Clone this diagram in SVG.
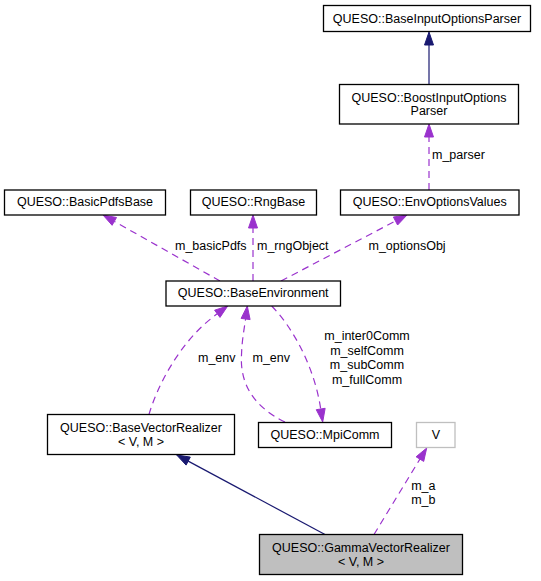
<svg xmlns="http://www.w3.org/2000/svg" width="541" height="581" viewBox="0 0 541 581">
<style>
  .box { fill: #ffffff; stroke: #000000; stroke-width: 1.3; }
  .cur { fill: #bfbfbf; stroke: #000000; stroke-width: 1.3; }
  .ext { fill: #ffffff; stroke: #bfbfbf; stroke-width: 1.3; }
  text { font-family: "Liberation Sans", Arial, Helvetica, sans-serif; font-size: 12.5px; fill: #000000; }
  .c { text-anchor: middle; }
  .inh { fill: none; stroke: #191970; stroke-width: 1.2; }
  .inhh { fill: #191970; stroke: #191970; stroke-width: 1; }
  .use { fill: none; stroke: #9a32cd; stroke-width: 1.2; stroke-dasharray: 7,5; }
  .useh { fill: #9a32cd; stroke: #9a32cd; stroke-width: 1; }
</style>
<rect width="541" height="581" fill="#ffffff"/>

<g id="connectors">
  <!-- BoostInputOptionsParser -> BaseInputOptionsParser -->
  <line class="inh" x1="429" y1="84" x2="429" y2="45"/>
  <polygon class="inhh" points="429,32 424.5,45 433.5,45"/>

  <!-- EnvOptionsValues -> BoostInputOptionsParser -->
  <line class="use" x1="429" y1="190" x2="429" y2="137"/>
  <polygon class="useh" points="429,124 424.5,137 433.5,137"/>
  <text x="432" y="159">m_parser</text>

  <!-- BaseEnvironment -> BasicPdfsBase -->
  <line class="use" x1="220" y1="281" x2="114.3" y2="221.4"/>
  <polygon class="useh" points="103,215 116.5,217.5 112.1,225.3"/>
  <text x="175" y="249.5">m_basicPdfs</text>

  <!-- BaseEnvironment -> RngBase -->
  <line class="use" x1="253" y1="281" x2="253" y2="228"/>
  <polygon class="useh" points="253,215 248.5,228 257.5,228"/>
  <text x="257" y="249.5">m_rngObject</text>

  <!-- BaseEnvironment -> EnvOptionsValues -->
  <line class="use" x1="281" y1="281" x2="395.5" y2="221"/>
  <polygon class="useh" points="407,215 397.6,225 393.4,217"/>
  <text x="368.5" y="249.5">m_optionsObj</text>

  <!-- BaseVectorRealizer -> BaseEnvironment -->
  <path class="use" d="M149,414.5 C156,390 178,342 217.3,313.8"/>
  <polygon class="useh" points="227.7,306 220,317.4 214.6,310.2"/>
  <text x="198" y="361.5">m_env</text>

  <!-- MpiComm -> BaseEnvironment -->
  <path class="use" d="M285,422 C250,405 240,380 241.5,355 C242,340 244,330 245.6,319"/>
  <polygon class="useh" points="247.3,306 250.1,319.6 241.1,318.4"/>
  <text x="252.5" y="361.5">m_env</text>

  <!-- BaseEnvironment -> MpiComm -->
  <path class="use" d="M271.7,306 C295,330 315,370 320.7,409"/>
  <polygon class="useh" points="322.7,422 325.15,408.3 316.25,409.7"/>
  <text class="c" x="367" y="340">m_inter0Comm</text>
  <text class="c" x="367" y="354.7">m_selfComm</text>
  <text class="c" x="367" y="369.3">m_subComm</text>
  <text class="c" x="367" y="384">m_fullComm</text>

  <!-- GammaVectorRealizer -> BaseVectorRealizer -->
  <line class="inh" x1="325" y1="534.5" x2="188.2" y2="461.1"/>
  <polygon class="inhh" points="176.7,455 190.3,457.1 186.1,465.1"/>

  <!-- GammaVectorRealizer -> V -->
  <line class="use" x1="374" y1="534.5" x2="419.9" y2="459.1"/>
  <polygon class="useh" points="426.7,448 423.7,461.4 416.1,456.8"/>
  <text class="c" x="423.3" y="489.5">m_a</text>
  <text class="c" x="423.3" y="503.5">m_b</text>
</g>

<g id="node_BaseInputOptionsParser">
  <rect class="box" x="323.5" y="5.5" width="207" height="26"/>
  <text class="c" x="427" y="22.5">QUESO::BaseInputOptionsParser</text>
</g>
<g id="node_BoostInputOptionsParser">
  <rect class="box" x="339.5" y="84.5" width="179" height="39.5"/>
  <text class="c" x="429" y="101.5">QUESO::BoostInputOptions</text>
  <text class="c" x="429" y="115">Parser</text>
</g>
<g id="node_BasicPdfsBase">
  <rect class="box" x="4.5" y="190" width="161" height="25"/>
  <text class="c" x="85" y="206">QUESO::BasicPdfsBase</text>
</g>
<g id="node_RngBase">
  <rect class="box" x="190.5" y="190" width="126" height="25"/>
  <text class="c" x="253.5" y="206">QUESO::RngBase</text>
</g>
<g id="node_EnvOptionsValues">
  <rect class="box" x="340.5" y="190" width="178.5" height="25"/>
  <text class="c" x="429.7" y="206">QUESO::EnvOptionsValues</text>
</g>
<g id="node_BaseEnvironment">
  <rect class="box" x="166" y="281" width="174.5" height="25"/>
  <text class="c" x="253.2" y="297">QUESO::BaseEnvironment</text>
</g>
<g id="node_BaseVectorRealizer">
  <rect class="box" x="47.5" y="414.5" width="187" height="40"/>
  <text class="c" x="141" y="431.5">QUESO::BaseVectorRealizer</text>
  <text class="c" x="141" y="445.5">&lt; V, M &gt;</text>
</g>
<g id="node_MpiComm">
  <rect class="box" x="258.5" y="422.5" width="133" height="25"/>
  <text class="c" x="325" y="439">QUESO::MpiComm</text>
</g>
<g id="node_V">
  <rect class="ext" x="416.5" y="422.5" width="38.5" height="25"/>
  <text class="c" x="435.8" y="439">V</text>
</g>
<g id="node_GammaVectorRealizer">
  <rect class="cur" x="259.5" y="534.5" width="203" height="40"/>
  <text class="c" x="361" y="551.5">QUESO::GammaVectorRealizer</text>
  <text class="c" x="361" y="565.5">&lt; V, M &gt;</text>
</g>
</svg>
